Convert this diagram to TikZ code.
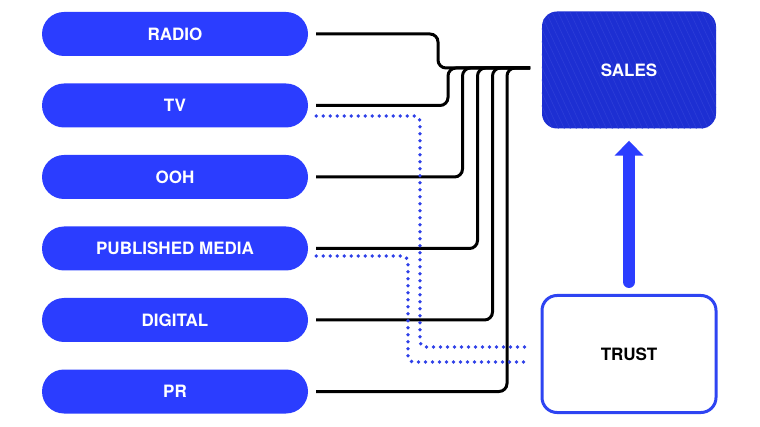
\documentclass[tikz,border=0pt]{standalone}
\usepackage{fontspec}
\setmainfont{TeX Gyre Heros}
\usetikzlibrary{arrows.meta,calc}
\definecolor{pillblue}{HTML}{2B3DFF}
\definecolor{salesblue}{HTML}{1D2FD2}
\definecolor{hatch}{HTML}{2C3DD8}
\definecolor{trustblue}{HTML}{2E44F2}
\definecolor{dotblue}{HTML}{2E40E8}
\tikzset{
  pill/.style={fill=pillblue, rounded corners=22pt, minimum width=266pt, minimum height=44pt,
    text=white, font=\fontsize{17}{20}\selectfont\bfseries, inner sep=0pt},
  bigbox/.style={rounded corners=15pt, minimum width=174pt, minimum height=117pt,
    font=\fontsize{17}{20}\selectfont\bfseries, inner sep=0pt},
  wire/.style={draw=black, line width=3pt, rounded corners=8pt},
  dotwire/.style={draw=dotblue, line width=3.8pt, line cap=round, dash pattern=on 0pt off 7pt, rounded corners=6pt},
  bigarrow/.style={draw=pillblue, line width=12pt, line cap=round, -{Triangle[width=28pt,length=15pt]}}
}
\begin{document}
\begin{tikzpicture}[x=1pt,y=-1pt]
\useasboundingbox (0,0) rectangle (760,427);
% source pills
\node[pill] (radio) at (175,34) {RADIO};
\node[pill] (tv) at (175,105.5) {TV};
\node[pill] (ooh) at (175,177) {OOH};
\node[pill] (pub) at (175,248.5) {PUBLISHED MEDIA};
\node[pill] (dig) at (175,320) {DIGITAL};
\node[pill] (pr) at (175,391.5) {PR};
% sales box with hatching
\node[bigbox, fill=salesblue, text=white] (sales) at (629,70) {};
\begin{scope}
  \clip[rounded corners=15pt] (sales.north west) rectangle (sales.south east);
  \foreach \i in {-80,-74,...,200} {
    \draw[hatch, line width=0.6pt] ({542+\i},12) -- ({542+\i+55},130);
  }
\end{scope}
\node[text=white, font=\fontsize{17}{20}\selectfont\bfseries] (salestext) at (sales.center) {SALES};
% trust box
\node[bigbox, draw=trustblue, line width=3pt, fill=white, text=black] (trust) at (629,354) {TRUST};
% trunk coordinates
\coordinate (cR) at (438,68);
\coordinate (cT) at (448,68);
\coordinate (cO) at (462.5,68);
\coordinate (cP) at (477.5,68);
\coordinate (cD) at (492.5,68);
\coordinate (cQ) at (507,68);
\coordinate (te) at (530,68);
% black connectors
\draw[wire] ([xshift=8pt]radio.east) -- (cR |- radio.east) -- (cR) -- (te);
\draw[wire] ([xshift=8pt]tv.east) -- (cT |- tv.east) -- (cT) -- (te);
\draw[wire] ([xshift=8pt]ooh.east) -- (cO |- ooh.east) -- (cO) -- (te);
\draw[wire] ([xshift=8pt]pub.east) -- (cP |- pub.east) -- (cP) -- (te);
\draw[wire] ([xshift=8pt]dig.east) -- (cD |- dig.east) -- (cD) -- (te);
\draw[wire] ([xshift=8pt]pr.east) -- (cQ |- pr.east) -- (cQ) -- (te);
% dotted connectors to trust
\coordinate (sT) at ([xshift=8pt,yshift=-10.5pt]tv.east);
\coordinate (sP) at ([xshift=8pt,yshift=-7.5pt]pub.east);
\coordinate (dT) at (420,347);
\coordinate (dP) at (408,362);
\coordinate (tw) at ([xshift=-13pt]trust.west);
\draw[dotwire] (sT) -- (dT |- sT) -- (dT) -- (tw |- dT);
\draw[dotwire] (sP) -- (dP |- sP) -- (dP) -- (tw |- dP);
% arrow trust -> sales
\draw[bigarrow] ([yshift=12pt]trust.north) -- ([yshift=-12pt]sales.south);
\end{tikzpicture}
\end{document}
